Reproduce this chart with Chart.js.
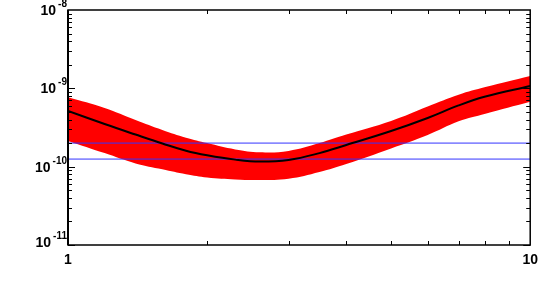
<!DOCTYPE html>
<html>
<head>
<meta charset="utf-8">
<script src="https://cdn.jsdelivr.net/npm/chart.js@4.4.1/dist/chart.umd.min.js"></script>
<style>
  html, body { margin: 0; padding: 0; background: #fff; }
  #c { display: block; }
</style>
</head>
<body>
<canvas id="c" width="545" height="281"></canvas>
<script>
// ---- data ----
const xValues      = [1, 1.2, 1.4, 1.6, 1.8, 2, 2.3, 2.6, 3, 3.5, 4, 5, 6, 7, 8, 10];
const centerValues = [5.14e-10, 3.50e-10, 2.57e-10, 1.98e-10, 1.60e-10, 1.40e-10, 1.23e-10, 1.16e-10, 1.22e-10, 1.49e-10, 1.89e-10, 2.85e-10, 4.18e-10, 6.05e-10, 7.86e-10, 1.07e-9];
const upperValues  = [7.68e-10, 5.61e-10, 3.94e-10, 2.94e-10, 2.34e-10, 2.00e-10, 1.66e-10, 1.53e-10, 1.59e-10, 2.00e-10, 2.57e-10, 3.83e-10, 5.86e-10, 8.30e-10, 1.04e-9, 1.44e-9];
const lowerValues  = [2.13e-10, 1.49e-10, 1.10e-10, 9.25e-11, 7.99e-11, 7.27e-11, 6.86e-11, 6.76e-11, 7.02e-11, 8.55e-11, 1.08e-10, 1.71e-10, 2.54e-10, 3.80e-10, 4.75e-10, 6.75e-10];
const levelValues  = [2.0e-10, 1.25e-10];
const xRange = [1, 10];
const yRange = [1e-11, 1e-8];
const xTickValues = [1, 10];
const xTickLabels = ['1', '10'];
const yTickBase = '10';
const yTickExponents = ['-11', '-10', '-9', '-8'];

const pts = arr => xValues.map((x, i) => ({x: x, y: arr[i]}));
const levelPts = v => [{x: xRange[0], y: v}, {x: xRange[1], y: v}];

const FAMILY = '"Liberation Sans", Arial, Helvetica, sans-serif';
const FONT = {family: FAMILY, weight: 'bold', size: 14};

const framePlugin = {
  id: 'frame',
  afterDraw(chart) {
    const {ctx, chartArea: a, scales} = chart;
    const xs = scales.x, ys = scales.y;
    ctx.save();
    ctx.strokeStyle = '#000';
    ctx.lineWidth = 1.5;
    ctx.strokeRect(a.left, a.top, a.right - a.left, a.bottom - a.top);
    ctx.lineWidth = 2;
    ctx.beginPath(); ctx.moveTo(a.left, a.top); ctx.lineTo(a.left, a.bottom); ctx.stroke();
    ctx.lineWidth = 1;
    ctx.beginPath();
    const ey0 = Math.round(Math.log10(yRange[0])), ey1 = Math.round(Math.log10(yRange[1]));
    for (let e = ey0; e < ey1; e++) {
      for (let m = 1; m < 10; m++) {
        const py = Math.round(ys.getPixelForValue(m * Math.pow(10, e))) + 0.5;
        const len = m === 1 ? 7 : 4;
        ctx.moveTo(a.left, py); ctx.lineTo(a.left + len, py);
        ctx.moveTo(a.right, py); ctx.lineTo(a.right - len, py);
      }
    }
    for (let m = 2; m < 10; m++) {
      const px = Math.round(xs.getPixelForValue(m)) + 0.5;
      ctx.moveTo(px, a.bottom); ctx.lineTo(px, a.bottom - 4);
      ctx.moveTo(px, a.top); ctx.lineTo(px, a.top + 4);
    }
    ctx.stroke();

    // y tick labels: "10" with superscript exponent, at the scale's decade positions
    ctx.fillStyle = '#000';
    ctx.textBaseline = 'alphabetic';
    ctx.textAlign = 'left';
    const right = a.left - 1;
    yTickExponents.forEach((ex, i) => {
      let py = ys.getPixelForValue(Math.pow(10, Number(ex)));
      if (i === 0) py -= 3;
      ctx.font = 'bold 10px ' + FAMILY;
      const supW = ctx.measureText(ex).width;
      ctx.font = 'bold 14px ' + FAMILY;
      const baseW = ctx.measureText(yTickBase).width;
      const bx = right - supW - 2 - baseW;
      ctx.fillText(yTickBase, bx, py + 5);
      ctx.font = 'bold 10px ' + FAMILY;
      ctx.fillText(ex, right - supW, py - 3);
    });
    ctx.restore();
  }
};

new Chart(document.getElementById('c'), {
  type: 'line',
  data: {
    datasets: [
      { label: 'center', data: pts(centerValues), borderColor: '#000', borderWidth: 2,
        pointRadius: 0, fill: false, tension: 0.4, order: 0 },
      { label: 'level1', data: levelPts(levelValues[0]), borderColor: '#3333ff', borderWidth: 1,
        pointRadius: 0, fill: false, order: 1 },
      { label: 'level2', data: levelPts(levelValues[1]), borderColor: '#3333ff', borderWidth: 1,
        pointRadius: 0, fill: false, order: 1 },
      { label: 'upper', data: pts(upperValues), borderColor: '#ff0000', borderWidth: 0,
        pointRadius: 0, fill: false, tension: 0.4, order: 3 },
      { label: 'lower', data: pts(lowerValues), borderColor: '#ff0000', borderWidth: 0,
        backgroundColor: '#ff0000', pointRadius: 0, fill: '-1', tension: 0.4, order: 2 }
    ]
  },
  options: {
    responsive: false,
    animation: false,
    events: [],
    layout: { padding: { top: 10, right: 11, left: 0, bottom: 0 } },
    plugins: { legend: { display: false }, tooltip: { enabled: false } },
    scales: {
      x: {
        type: 'logarithmic', min: xRange[0], max: xRange[1],
        grid: { display: false, drawTicks: false },
        border: { display: false },
        ticks: {
          autoSkip: false, maxRotation: 0, padding: 7, color: '#000', font: FONT,
          callback: v => {
            const i = xTickValues.indexOf(v);
            return i >= 0 ? xTickLabels[i] : '';
          }
        },
        afterFit: s => { s.height = 36; }
      },
      y: {
        type: 'logarithmic', min: yRange[0], max: yRange[1],
        grid: { display: false, drawTicks: false },
        border: { display: false },
        ticks: { display: false },
        afterFit: s => { s.width = 68; }
      }
    }
  },
  plugins: [framePlugin]
});
</script>
</body>
</html>
